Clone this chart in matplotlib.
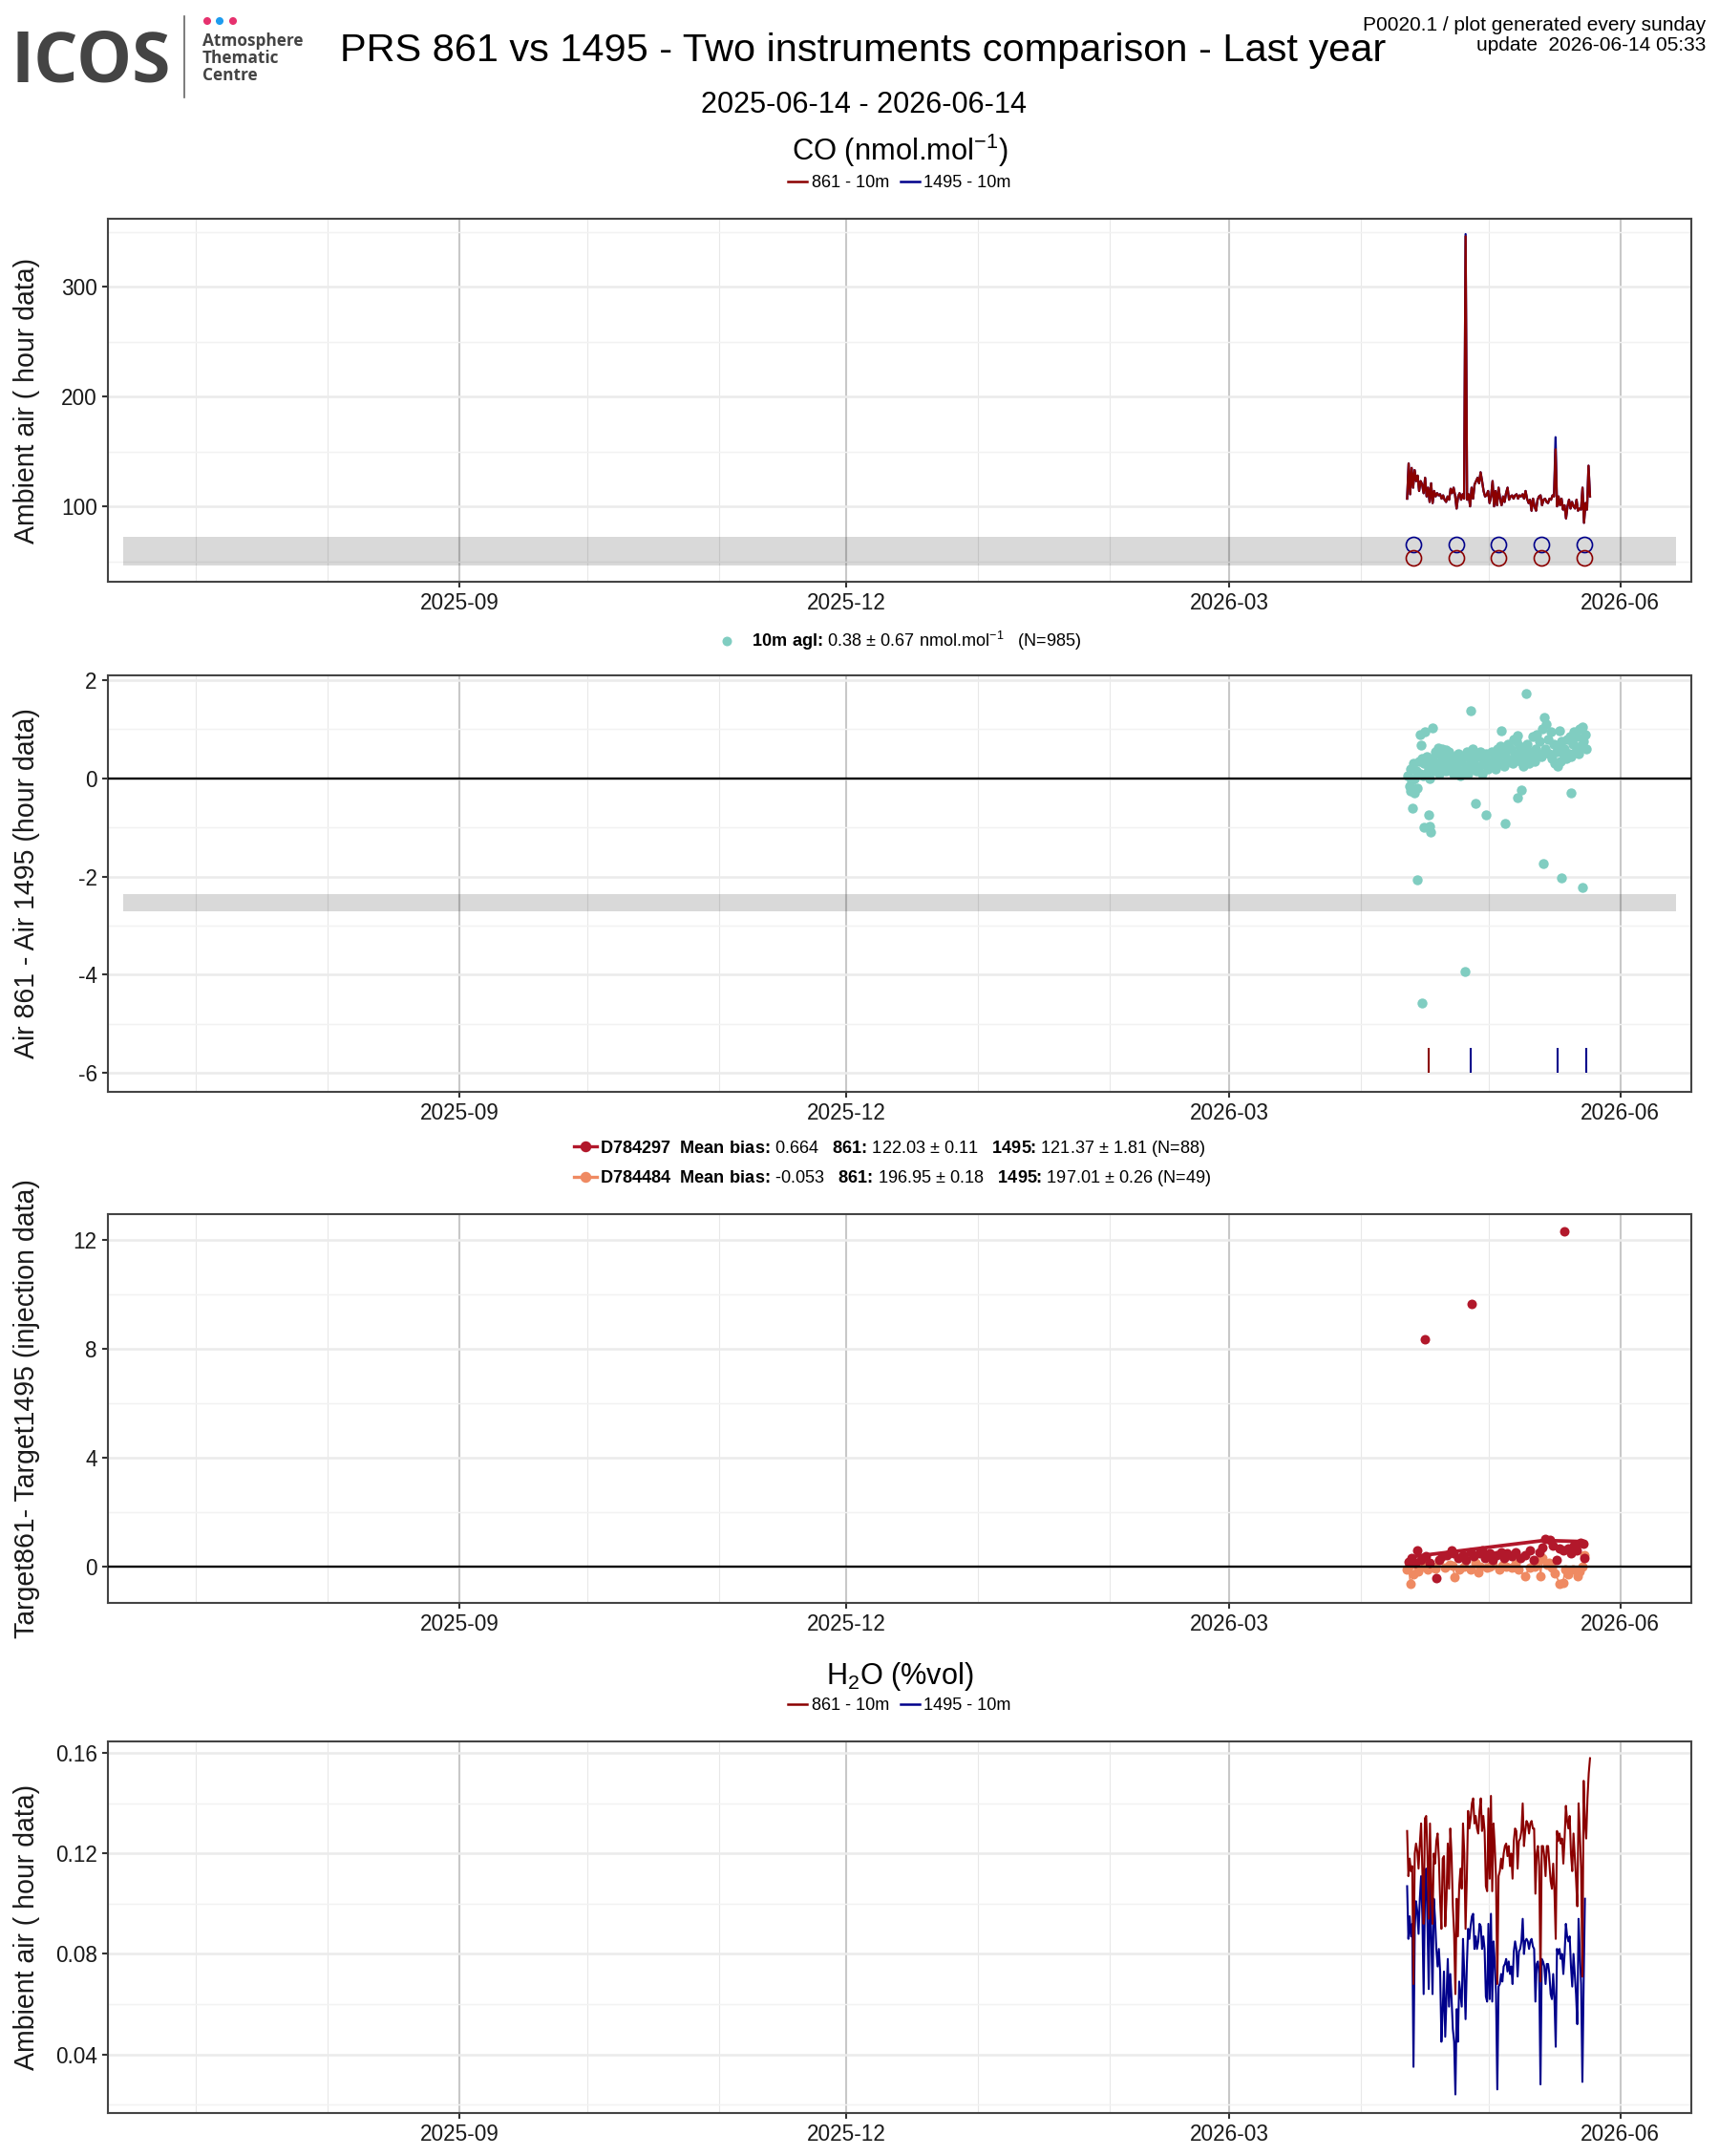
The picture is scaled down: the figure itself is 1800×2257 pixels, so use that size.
import matplotlib
matplotlib.use("Agg")
import matplotlib.pyplot as plt
import matplotlib.dates as mdates
from matplotlib.lines import Line2D
import pandas as pd

plt.rcParams["font.family"] = ["Liberation Sans", "DejaVu Sans"]
plt.rcParams["mathtext.fontset"] = "custom"
plt.rcParams["mathtext.rm"] = "Liberation Sans"
plt.rcParams["mathtext.bf"] = "Liberation Sans:bold"
plt.rcParams["mathtext.default"] = "regular"

# ---------------- data ----------------
period = ["2025-06-14", "2026-06-14"]
day0 = pd.Timestamp("2026-04-01")          # day offsets below count from here

# CO ambient air (nmol/mol), values spread evenly over co_span
co_span = ["2026-04-11 20:00", "2026-05-24 20:00"]
co_861 = [107, 139, 111, 135, 117, 133, 123, 128, 114, 123, 120, 112,
          126, 109, 117, 104, 121, 103, 114, 109, 112, 110, 111, 107, 110, 106,
          104, 109, 106, 116, 112, 117, 110, 98, 109, 112, 106, 111, 107,
          346, 106, 111, 100,
          117, 107, 120, 123, 126, 121, 131, 123, 114, 109, 110, 114, 103, 109,
          123, 100, 114, 101, 117, 107, 101, 109, 104, 112, 117, 106, 109, 110,
          107, 110, 111, 107, 110, 109, 111, 107, 114, 107, 103, 106, 96, 107,
          100, 96, 106, 109, 110, 101, 106, 107, 104, 103, 107, 106, 110, 109,
          152,
          100, 109, 101, 107, 97, 101, 89, 100, 106, 98, 104, 100, 98, 106, 96, 98, 97,
          117, 85, 103, 97, 137, 109]
co_1495 = list(co_861)
co_1495[39] = 348      # the two spikes go higher on 1495
co_1495[99] = 163

co_band = [46, 72]
check_days = [12.3, 22.4, 32.3, 42.4, 52.5]
check_1495 = [65, 65, 65, 65, 65]
check_861 = [53, 53, 53, 53, 53]

# Air 861 - Air 1495 (hour data)
diff_span = ["2026-04-12 00:00", "2026-05-24 00:00"]
diff_main = [0.05, -0.15, 0.20, -0.05, 0.30, 0.00, 0.15, -0.20, 0.35, 0.10, 0.40, 0.05,
             0.30, 0.10, 0.45, 0.20, 0.00, 0.35, 0.40, 0.15, 0.55, 0.25, 0.50, 0.10,
             0.35, 0.60, 0.20, 0.45, 0.15, 0.30, 0.55, 0.25, 0.40, 0.10, 0.45, 0.30,
             0.20, 0.50, 0.05, 0.35, 0.15, 0.45, 0.25, 0.55, 0.10, 0.40, 0.20, 0.60,
             0.30, 0.50, 0.15, 0.45, 0.25, 0.55, 0.10, 0.40, 0.30, 0.50, 0.20, 0.35,
             0.30, 0.55, 0.25, 0.45, 0.20, 0.60, 0.35, 0.65, 0.30, 0.50, 0.25, 0.55,
             0.40, 0.70, 0.35, 0.60, 0.30, 0.80, 0.50, 0.75, 0.40, 0.65, 0.35, 0.55,
             0.25, 0.60, 0.40, 0.70, 0.30, 0.55, 0.45, 0.85, 0.35, 0.60, 0.90, 0.50,
             0.75, 0.45, 1.00, 1.25, 0.60, 1.10, 0.80, 0.50, 0.95, 0.40, 0.70, 0.30,
             0.55, 0.25, 0.65, 0.35, 0.75, 0.50, 0.60, 0.40, 0.80, 0.50, 0.85, 0.45,
             0.70, 0.95, 0.55, 0.85, 0.50, 1.00, 0.65, 1.05, 0.75, 0.90, 0.60]
diff_out_days = [38.86, 25.85, 16.81, 14.95, 13.96, 32.9, 36.7, 46.7, 12.17, 15.91,
                 14.72, 16.43, 16.2, 26.84, 29.44, 33.86, 36.84, 37.6, 49.34, 42.83,
                 47.16, 52.1, 13.22, 24.37, 14.41, 14.2, 18.1, 20.0, 11.6, 12.6]
diff_out_vals = [1.73, 1.38, 1.02, 0.95, 0.90, 0.97, 0.88, 0.97, -0.60, -0.74,
                 -0.99, -1.10, -0.98, -0.50, -0.75, -0.91, -0.40, -0.23, -0.30, -1.73,
                 -2.02, -2.23, -2.07, -3.93, -4.58, 0.68, 0.62, 0.58, -0.25, -0.30]
diff_band = [-2.71, -2.36]
flag_days = [15.9, 25.85, 46.13, 52.86]
flag_cols = ["#8B0000", "#00008B", "#00008B", "#00008B"]
flag_range = [-6.0, -5.5]

# Target861 - Target1495 (injection data)
t297_days = [11.2, 11.95, 12.7, 13.1, 14.2, 15.3, 16.1, 17.6, 18.3, 19.05,
             20.2, 21.3, 21.7, 22.8, 23.9, 24.7, 25.8, 26.5, 27.7, 28.4,
             29.15, 30.3, 31.0, 31.8, 32.9, 33.6, 34.4, 35.5, 36.25, 37.4,
             38.5, 39.6, 40.7, 41.9, 42.6, 43.4, 44.5, 45.2, 46.0, 46.7,
             47.5, 48.6, 49.3, 50.1, 50.8, 51.6, 52.3, 52.55, 14.95, 25.94, 47.83]
t297_vals = [0.20, 0.32, 0.14, 0.61, 0.26, 0.38, 0.14, -0.42, 0.26, 0.38,
             0.43, 0.61, 0.49, 0.32, 0.43, 0.26, 0.55, 0.38, 0.49, 0.61,
             0.32, 0.49, 0.26, 0.43, 0.55, 0.32, 0.49, 0.38, 0.55, 0.32,
             0.43, 0.61, 0.26, 0.55, 0.72, 1.02, 0.98, 0.78, 0.26, 0.67,
             0.61, 0.67, 0.49, 0.78, 0.61, 0.90, 0.84, 0.32, 8.36, 9.65, 12.29]
t297_line_days = [12.3, 43.0, 52.0]
t297_line_vals = [0.38, 0.97, 0.93]
t484_days = [10.83, 11.2, 11.58, 12.33, 13.0, 13.45, 14.57, 15.69, 16.81, 17.5,
             18.31, 19.8, 20.93, 21.5, 22.05, 23.17, 24.29, 25.79, 26.91, 27.5,
             28.03, 29.52, 30.2, 31.02, 32.51, 33.3, 34.01, 35.5, 36.3, 37.0,
             38.5, 39.62, 40.74, 41.86, 42.2, 42.61, 43.73, 44.2, 44.85, 45.6,
             46.72, 47.47, 48.0, 48.59, 49.71, 50.83, 51.3, 51.95, 52.55]
t484_vals = [-0.10, 0.00, -0.63, -0.28, 0.08, -0.16, 0.02, -0.10, 0.02, -0.05,
             0.26, -0.04, 0.08, 0.05, -0.39, -0.10, 0.02, -0.10, 0.14, -0.20,
             0.02, -0.04, 0.00, 0.08, -0.10, 0.05, 0.02, -0.04, 0.10, -0.10,
             -0.33, -0.04, 0.02, 0.26, -0.35, 0.32, 0.08, 0.15, -0.04, -0.22,
             -0.63, -0.57, -0.10, -0.28, -0.10, -0.33, -0.15, 0.02, 0.43]

# H2O ambient air (%vol), 1495 stops a little earlier than 861
h2o_span = ["2026-04-11 20:00", "2026-05-24 20:00"]
h2o_861 = [.129, .111, .118, .113, .115, .068, .120, .124, .121, .114, .124, .132, .113, .092,
           .134, .135, .120, .094, .132, .107, .092, .120, .116, .125, .128, .118, .101, .090,
           .118, .119, .091, .102, .124, .106, .130, .119, .099, .088, .064, .102, .087, .107,
           .114, .106, .132, .120, .090, .110, .137, .130, .134, .140, .142, .132, .135, .130,
           .128, .137, .142, .129, .135, .129, .107, .105, .138, .110, .143, .105, .132, .123,
           .110, .068, .111, .113, .118, .114, .120, .123, .124, .119, .123, .115, .120, .110,
           .125, .130, .129, .114, .125, .126, .129, .140, .123, .129, .133, .132, .128, .132,
           .133, .130, .130, .104, .120, .123, .115, .069, .123, .123, .119, .111, .123, .123,
           .116, .109, .106, .116, .105, .086, .129, .125, .128, .124, .126, .116, .126, .139,
           .133, .130, .135, .120, .113, .128, .119, .110, .099, .140, .128, .114, .071, .149,
           .132, .126, .142, .152, .158]
h2o_1495 = [.107, .086, .095, .087, .092, .035, .090, .101, .097, .088, .102, .111, .095, .064,
            .102, .114, .092, .066, .110, .086, .064, .102, .094, .082, .075, .082, .073, .045,
            .057, .073, .047, .063, .078, .059, .072, .062, .050, .045, .024, .058, .045, .069,
            .064, .059, .086, .072, .054, .075, .090, .086, .091, .095, .096, .082, .087, .082,
            .085, .092, .091, .082, .087, .082, .063, .061, .092, .062, .096, .061, .085, .077,
            .064, .026, .067, .068, .072, .069, .075, .076, .078, .073, .077, .072, .075, .068,
            .081, .085, .082, .071, .081, .082, .085, .094, .080, .085, .086, .085, .082, .085,
            .086, .083, .082, .061, .076, .077, .072, .028, .078, .077, .075, .068, .076, .076,
            .072, .064, .062, .072, .062, .043, .082, .080, .082, .078, .080, .072, .080, .092,
            .087, .085, .087, .075, .067, .080, .072, .064, .052, .094, .080, .068, .029, .069,
            .102]

RED, BLUE = "#8B0000", "#00008B"
TEAL, C297, C484 = "#80CDC1", "#B2182B", "#EF8A62"


def days(d):
    return day0 + pd.to_timedelta(d, unit="D")


# ---------------- figure ----------------
W, H = 1800, 2257
fig = plt.figure(figsize=(W / 150, H / 150), dpi=150)

hdr = fig.add_axes([0, 0, 1, 1], zorder=-1)
hdr.set_xlim(0, W)
hdr.set_ylim(H, 0)
hdr.axis("off")

p0 = pd.to_datetime(period)
xlim = (p0[0] - pd.Timedelta(days=3.65), p0[1] + pd.Timedelta(days=3.65))


def panel(top, bottom, ylim, yticks, yminor, fmt, ylabel):
    ax = fig.add_axes([113 / W, 1 - bottom / H, 1658 / W, (bottom - top) / H])
    ax.set_xlim(xlim)
    ax.set_ylim(ylim)
    ax.xaxis.set_major_locator(mdates.MonthLocator(bymonth=[3, 6, 9, 12]))
    ax.xaxis.set_minor_locator(mdates.MonthLocator())
    ax.xaxis.set_major_formatter(mdates.DateFormatter("%Y-%m"))
    ax.set_yticks(yticks)
    ax.set_yticks(yminor, minor=True)
    ax.set_yticklabels([fmt.format(v) for v in yticks])
    ax.grid(which="major", axis="x", color="#c8c8c8", lw=1.0)
    ax.grid(which="minor", axis="x", color="#e8e8e8", lw=0.55)
    ax.grid(which="major", axis="y", color="#ebebeb", lw=1.2)
    ax.grid(which="minor", axis="y", color="#f2f2f2", lw=0.7)
    ax.set_axisbelow(True)
    ax.tick_params(which="major", length=2.9, width=1.0, color="#333333",
                   labelsize=10.8, labelcolor="#1a1a1a", pad=2.5)
    ax.tick_params(which="minor", length=0)
    for s in ax.spines.values():
        s.set_color("#444444")
        s.set_linewidth(1.0)
    ax.set_ylabel(ylabel, fontsize=13.7, color="#1a1a1a")
    ax.yaxis.set_label_coords(-0.043, 0.5)
    return ax


# ---- panel 1: CO ambient ----
ax1 = panel(229, 609, (31.3, 362), [100, 200, 300], [50, 150, 250, 350], "{:.0f}",
            "Ambient air ( hour data)")
t_co = pd.date_range(co_span[0], co_span[1], periods=len(co_861))
ax1.fill_between(p0, co_band[0], co_band[1], color="black", alpha=0.15, lw=0, zorder=1.5)
ax1.plot(t_co, co_1495, color=BLUE, lw=1.1)
ax1.plot(t_co, co_861, color=RED, lw=1.1)
ax1.plot(days(check_days), check_1495, "o", mfc="none", mec=BLUE, ms=7.7, mew=0.8, zorder=3)
ax1.plot(days(check_days), check_861, "o", mfc="none", mec=RED, ms=7.7, mew=0.8, zorder=3)
ax1.legend([Line2D([], [], color=RED, lw=1.2), Line2D([], [], color=BLUE, lw=1.2)],
           ["861 - 10m", "1495 - 10m"], ncol=2, frameon=False, fontsize=8.7,
           handlelength=1.1, handletextpad=0.25, columnspacing=0.66,
           loc="center", bbox_to_anchor=(942, 192), bbox_transform=hdr.transData,
           borderaxespad=0, borderpad=0)

# ---- panel 2: air difference ----
ax2 = panel(707, 1143, (-6.39, 2.1), [-6, -4, -2, 0, 2], [-5, -3, -1, 1], "{:.0f}",
            "Air 861 - Air 1495 (hour data)")
t_diff = pd.date_range(diff_span[0], diff_span[1], periods=len(diff_main))
ax2.fill_between(p0, diff_band[0], diff_band[1], color="black", alpha=0.15, lw=0, zorder=1.5)
ax2.scatter(t_diff, diff_main, s=25, color=TEAL, lw=0, zorder=2)
ax2.scatter(days(diff_out_days), diff_out_vals, s=25, color=TEAL, lw=0, zorder=2)
ax2.vlines(days(flag_days), flag_range[0], flag_range[1], colors=flag_cols, lw=1.0, zorder=3)
ax2.axhline(0, color="black", lw=1.1, zorder=4)
ax2.legend([Line2D([], [], ls="none", marker="o", ms=4.8, color=TEAL, mew=0)],
           [r"$\mathbf{10m\ agl\colon}$ 0.38 ± 0.67 nmol.mol$^{-1}$   (N=985)"],
           frameon=False, fontsize=8.7, handlelength=1.0, handletextpad=0.95,
           loc="center", bbox_to_anchor=(942, 671), bbox_transform=hdr.transData,
           borderaxespad=0, borderpad=0)

# ---- panel 3: target difference ----
ax3 = panel(1271, 1678, (-1.32, 12.93), [0, 4, 8, 12], [2, 6, 10], "{:.0f}",
            "Target861- Target1495 (injection data)")
ax3.scatter(days(t484_days), t484_vals, s=23, color=C484, lw=0, zorder=2)
ax3.plot(days(t484_days), t484_vals, color=C484, lw=0.8, zorder=2)
ax3.scatter(days(t297_days), t297_vals, s=23, color=C297, lw=0, zorder=2.2)
ax3.plot(days(t297_line_days), t297_line_vals, color=C297, lw=1.8, zorder=2.2)
ax3.axhline(0, color="black", lw=1.1, zorder=4)
ax3.legend([Line2D([], [], color=C297, lw=1.6, marker="o", ms=4.5),
            Line2D([], [], color=C484, lw=1.6, marker="o", ms=4.5)],
           [r"$\mathbf{D784297}$  $\mathbf{Mean\ bias\colon}$ 0.664   $\mathbf{861\colon}$ "
            r"122.03 ± 0.11   $\mathbf{1495\colon}$ 121.37 ± 1.81 (N=88)",
            r"$\mathbf{D784484}$  $\mathbf{Mean\ bias\colon}$ -0.053   $\mathbf{861\colon}$ "
            r"196.95 ± 0.18   $\mathbf{1495\colon}$ 197.01 ± 0.26 (N=49)"],
           frameon=False, fontsize=8.7, handlelength=1.33, handletextpad=0.15,
           labelspacing=0.6, loc="center", bbox_to_anchor=(935, 1218),
           bbox_transform=hdr.transData, borderaxespad=0, borderpad=0)

# ---- panel 4: H2O ambient ----
ax4 = panel(1823, 2212, (0.0166, 0.1647), [0.04, 0.08, 0.12, 0.16],
            [0.02, 0.06, 0.10, 0.14], "{:.2f}", "Ambient air ( hour data)")
t_h2o = pd.date_range(h2o_span[0], h2o_span[1], periods=len(h2o_861))
ax4.plot(t_h2o[:len(h2o_1495)], h2o_1495, color=BLUE, lw=1.0)
ax4.plot(t_h2o, h2o_861, color=RED, lw=1.0)
ax4.legend([Line2D([], [], color=RED, lw=1.2), Line2D([], [], color=BLUE, lw=1.2)],
           ["861 - 10m", "1495 - 10m"], ncol=2, frameon=False, fontsize=8.7,
           handlelength=1.1, handletextpad=0.25, columnspacing=0.66,
           loc="center", bbox_to_anchor=(942, 1786), bbox_transform=hdr.transData,
           borderaxespad=0, borderpad=0)

# ---------------- header texts ----------------
hdr.text(904, 64, "PRS 861 vs 1495 - Two instruments comparison - Last year",
         ha="center", va="baseline", fontsize=19.9, color="black")
hdr.text(904, 118, "2025-06-14 - 2026-06-14", ha="center", va="baseline", fontsize=14.7)
hdr.text(942, 168, r"CO (nmol.mol$^{-1}$)", ha="center", va="baseline", fontsize=14.8)
hdr.text(942, 1763, r"H$_2$O (%vol)", ha="center", va="baseline", fontsize=14.7)
hdr.text(1786, 32, "P0020.1 / plot generated every sunday", ha="right", va="baseline",
         fontsize=10)
hdr.text(1786, 53, "update  2026-06-14 05:33", ha="right", va="baseline", fontsize=10)

# ICOS logo
hdr.text(12, 85, "ICOS", family=["Open Sans", "DejaVu Sans"], weight="bold",
         fontsize=35, color="#444444", va="baseline")
hdr.plot([193, 193], [17, 102], color="#666666", lw=0.8)
hdr.scatter([217, 230, 244], [22, 22, 22], s=15, color=["#E6316E", "#1E9CEF", "#E6316E"], lw=0)
for yy, word in zip([48, 66, 84], ["Atmosphere", "Thematic", "Centre"]):
    hdr.text(212, yy, word, family=["Open Sans", "DejaVu Sans"], weight="bold",
             fontsize=8.3, color="#444444", va="baseline")

fig.savefig("out.png", dpi=150)
